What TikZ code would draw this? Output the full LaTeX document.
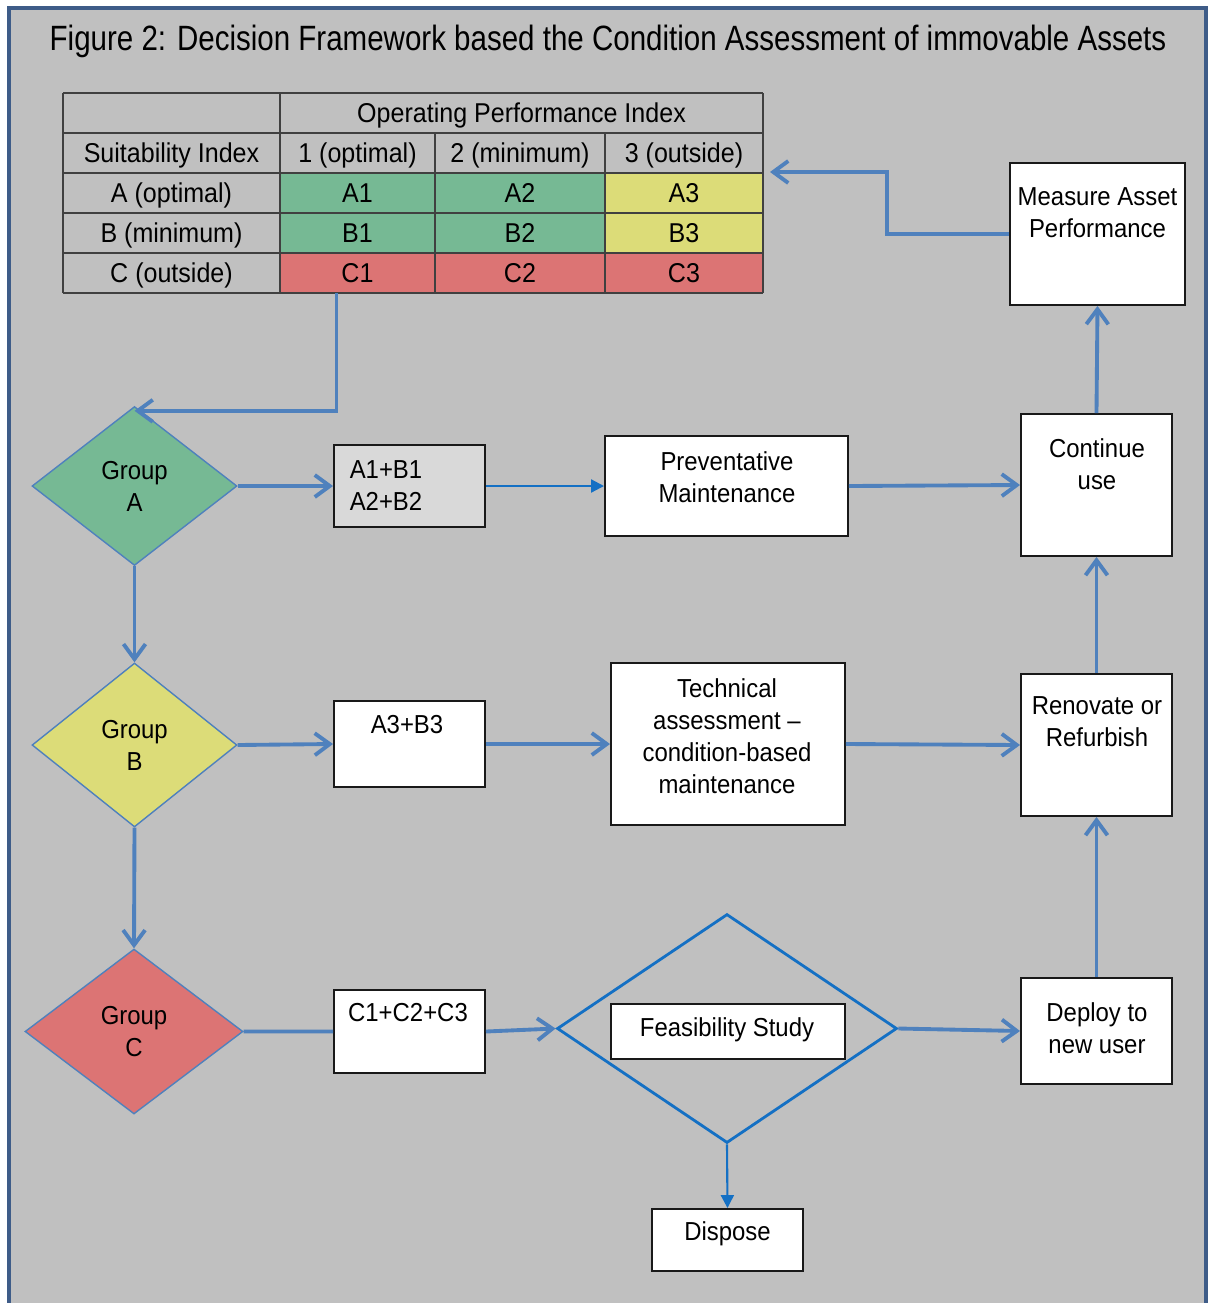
\documentclass[tikz,border=0pt]{standalone}
\usepackage{fontspec}
\setmainfont{Liberation Sans}[FakeStretch=0.92]
\newfontfamily\titlefont{Liberation Sans}[FakeStretch=0.84]
\usetikzlibrary{arrows.meta,shapes.geometric,fit,positioning}
\definecolor{framegray}{RGB}{192,192,192}
\definecolor{frameblue}{RGB}{62,92,136}
\definecolor{flowblue}{RGB}{79,129,189}
\definecolor{thinblue}{RGB}{20,112,196}
\definecolor{cgreen}{RGB}{118,185,148}
\definecolor{cyellow}{RGB}{220,220,120}
\definecolor{cred}{RGB}{220,116,116}
\definecolor{cellgray}{RGB}{217,217,217}
\definecolor{gridgray}{RGB}{64,64,64}

\begin{document}
\begin{tikzpicture}[x=0.02cm, y=-0.02cm]
\tikzset{
    tabtext/.style={font=\fontsize{15.5}{18}\selectfont, inner sep=0pt, text height=12pt, text depth=1pt},
    cell/.style={tabtext, draw=none, minimum height=0.8cm},
    grid/.style={gridgray, line width=1.1pt},
    box/.style={draw=black!90, line width=1.1pt, fill=white, inner sep=0pt},
    boxtext/.style={font=\fontsize{14.8}{18.2}\selectfont, align=center, inner sep=0pt},
    group/.style={diamond, draw=flowblue, line width=0.8pt, inner sep=0pt, align=center,
        font=\fontsize{14.8}{18.2}\selectfont},
    flow/.style={flowblue, line width=2.2pt, -{Straight Barb[length=3mm, width=4.4mm]}},
    thinflow/.style={thinblue, line width=1.2pt, -{Triangle[length=2.6mm, width=2.6mm]}}
}

\useasboundingbox (0,0) rectangle (1212,1303);
\draw[frameblue, line width=2.4pt, fill=framegray] (9,8) rectangle (1206,1340);

\node[font=\titlefont\fontsize{20}{24}\selectfont, anchor=base] (title) at (608,50)
    {Figure 2: Decision Framework based the Condition Assessment of immovable Assets};

% table
\node[tabtext] (opi) at (521.5,113) {Operating Performance Index};
\node[tabtext] (suit) at (171.5,153) {Suitability Index};
\node[tabtext] (col1) at (357.5,153) {1 (optimal)};
\node[tabtext] (col2) at (520,153) {2 (minimum)};
\node[tabtext] (col3) at (684,153) {3 (outside)};
\foreach \r/\ry/\lab/\ca/\cb/\cc in {A/193/A (optimal)/cgreen/cgreen/cyellow,
        B/233/B (minimum)/cgreen/cgreen/cyellow, C/273/C (outside)/cred/cred/cred}{
    \node[tabtext] (row\r) at (171.5,\ry) {\lab};
    \node[cell, fill=\ca, minimum width=3.1cm] (\r1) at (357.5,\ry) {\r1};
    \node[cell, fill=\cb, minimum width=3.4cm] (\r2) at (520,\ry) {\r2};
    \node[cell, fill=\cc, minimum width=3.16cm] (\r3) at (684,\ry) {\r3};
}
\foreach \gy in {93,133,...,293}
    \draw[grid] (63,\gy) -- (763,\gy);
\foreach \gx in {63,280,763}
    \draw[grid] (\gx,93) -- (\gx,293);
\foreach \gx in {435,605}
    \draw[grid] (\gx,133) -- (\gx,293);

% groups
\node[group, fill=cgreen, shape aspect=1.29, minimum width=4.1cm, minimum height=3.18cm] (grpA) at (134.5,486) {Group\\A};
\node[group, fill=cyellow, shape aspect=1.25, minimum width=4.1cm, minimum height=3.28cm] (grpB) at (134.5,745) {Group\\B};
\node[group, fill=cred, shape aspect=1.32, minimum width=4.36cm, minimum height=3.3cm] (grpC) at (134,1031.5) {Group\\C};

% boxes
\node[box, fill=cellgray, fit={(334,445) (485,527)}] (boxA) {};
\node[boxtext] (boxA-t) at (386,486) {A1+B1\\A2+B2};
\node[box, fit={(605,436) (848,536)}] (prev) {};
\node[boxtext] (prev-t) at (727,477) {Preventative\\Maintenance};
\node[box, fit={(1021,414) (1172,556)}] (contu) {};
\node[boxtext] (contu-t) at (1097,464) {Continue\\use};
\node[box, fit={(1010,163) (1185,305)}] (meas) {};
\node[boxtext] (meas-t) at (1097.5,213) {Measure Asset\\Performance};

\node[box, fit={(334,701) (485,787)}] (boxB) {};
\node[boxtext] (boxB-t) at (407,725) {A3+B3};
\node[box, fit={(611,663) (845,825)}] (tech) {};
\node[boxtext] (tech-t) at (727,736) {Technical\\assessment --\\condition-based\\maintenance};
\node[box, fit={(1021,674) (1172,816)}] (renov) {};
\node[boxtext] (renov-t) at (1097,722) {Renovate or\\Refurbish};

\node[box, fit={(334,990) (485,1073)}] (boxC) {};
\node[boxtext] (boxC-t) at (408,1013) {C1+C2+C3};
\node[diamond, draw=thinblue, line width=1.6pt, inner sep=0pt, shape aspect=1.485,
    minimum width=6.8cm, minimum height=4.58cm] (feas) at (727,1028.5) {};
\node[box, fit={(611,1004) (845,1059)}] (feasbox) {};
\node[boxtext] (feas-t) at (727,1030) {Feasibility Study};
\node[box, fit={(1021,978) (1172,1084)}] (deploy) {};
\node[boxtext] (deploy-t) at (1097,1028) {Deploy to\\new user};
\node[box, fit={(652,1209) (803,1271)}] (disp) {};
\node[boxtext] (disp-t) at (727.5,1234) {Dispose};

% connectors
\coordinate (tabin) at (770,172);
\draw[flow] (meas.west) -- ++(-122,0) |- (tabin);
\draw[flow] ([xshift=-0.42cm]C1.south) |- ([yshift=-0.1cm]grpA.north);
\draw[flow] (grpA.east) -- (boxA.west);
\draw[thinflow] (boxA.east) -- (prev.west);
\draw[flow] (prev.east) -- (contu.west);
\draw[flow] (contu.north) -- (meas.south);
\draw[flow] (grpA.south) -- (grpB.north);
\draw[flow] (grpB.east) -- (boxB.west);
\draw[flow] (boxB.east) -- (tech.west);
\draw[flow] (tech.east) -- (renov.west);
\draw[flow] (renov.north) -- (contu.south);
\draw[flow] (grpB.south) -- (grpC.north);
\draw[flowblue, line width=2.2pt] (grpC.east) -- (boxC.west);
\draw[flow] (boxC.east) -- (feas.west);
\draw[flow] (feas.east) -- (deploy.west);
\draw[flow] (deploy.north) -- (renov.south);
\draw[thinflow] (feas.south) -- (disp.north);

\end{tikzpicture}
\end{document}
